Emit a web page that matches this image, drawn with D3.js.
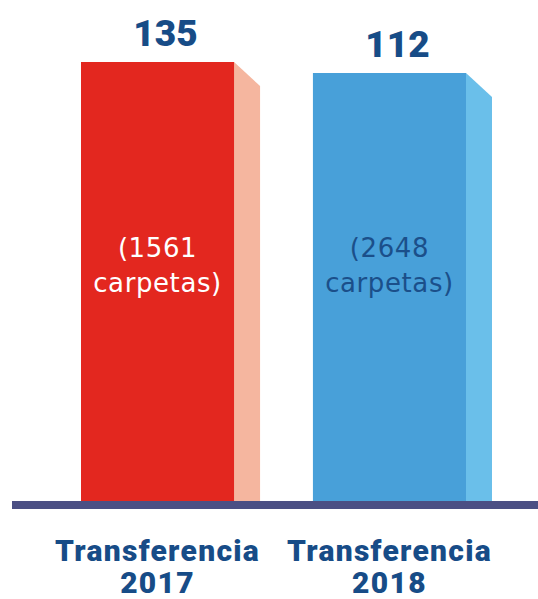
<!DOCTYPE html>
<html>
<head>
<meta charset="utf-8">
<style>
  body { margin: 0; background: #fff; }
  svg { display: block; }
  text { font-family: Roboto, "Noto Sans", sans-serif; }
</style>
</head>
<body>
<svg id="chart" width="538" height="599"></svg>
<script src="https://d3js.org/d3.v7.min.js"></script>
<script>

var categories = ["Transferencia 2017", "Transferencia 2018"];
var values = [135, 112];
var carpetas = [1561, 2648];

var frontColors = ["#e3271f", "#48a0d9"];
var sideColors = ["#f5b69f", "#6abfea"];
var innerTextColors = ["#ffffff", "#1b4f8a"];
var darkBlue = "#174c87";

var svg = d3.select("#chart"),
    baseY = 501,
    depthX = 26,
    depthY = 24;

var x = d3.scaleBand()
    .domain(categories)
    .range([81, 466])
    .paddingInner(0.34)
    .paddingOuter(0);

// chart is not zero based, bars start far below zero
var y = d3.scaleLinear()
    .domain([-783, 135])
    .range([baseY, 62]);

var data = categories.map(function(c, i) {
  return {cat: c, value: values[i], carpetas: carpetas[i], i: i};
});

var bars = svg.selectAll(".bar")
    .data(data)
  .enter().append("g")
    .attr("class", "bar");

// side face
bars.append("path")
    .attr("fill", function(d) { return sideColors[d.i]; })
    .attr("d", function(d) {
      var x0 = x(d.cat) + x.bandwidth(), y0 = y(d.value);
      return "M" + x0 + "," + y0 +
             "L" + (x0 + depthX) + "," + (y0 + depthY) +
             "L" + (x0 + depthX) + "," + baseY +
             "L" + x0 + "," + baseY + "Z";
    });

// front face
bars.append("rect")
    .attr("x", function(d) { return x(d.cat); })
    .attr("y", function(d) { return y(d.value); })
    .attr("width", x.bandwidth())
    .attr("height", function(d) { return baseY - y(d.value); })
    .attr("fill", function(d) { return frontColors[d.i]; });

// value on top
bars.append("text")
    .attr("x", function(d) { return x(d.cat) + x.bandwidth() / 2 + 8; })
    .attr("y", function(d) { return y(d.value) - 16; })
    .attr("text-anchor", "middle")
    .attr("fill", darkBlue)
    .style("font-size", "37px")
    .style("font-weight", 900)
    .text(function(d) { return d.value; });

// inner label
var inner = bars.append("text")
    .attr("text-anchor", "middle")
    .attr("fill", function(d) { return innerTextColors[d.i]; })
    .style("font-family", "'DejaVu Sans', sans-serif")
    .style("font-size", "26px")
    .style("letter-spacing", "0.6px")
    .style("font-weight", 400);

inner.append("tspan")
    .attr("x", function(d) { return x(d.cat) + x.bandwidth() / 2; })
    .attr("y", 257)
    .text(function(d) { return "(" + d.carpetas; });
inner.append("tspan")
    .attr("x", function(d) { return x(d.cat) + x.bandwidth() / 2; })
    .attr("y", 292)
    .text("carpetas)");

// baseline
svg.append("line")
    .attr("x1", 12)
    .attr("x2", 538)
    .attr("y1", baseY + 4)
    .attr("y2", baseY + 4)
    .attr("stroke", "#4b4f84")
    .attr("stroke-width", 8);

// category labels
var labels = svg.selectAll(".cat")
    .data(data)
  .enter().append("text")
    .attr("class", "cat")
    .attr("text-anchor", "middle")
    .attr("fill", darkBlue)
    .style("font-size", "30px")
    .style("font-weight", 900)
    .style("letter-spacing", "1.3px");

labels.each(function(d) {
  var parts = d.cat.split(" ");
  var t = d3.select(this);
  parts.forEach(function(p, j) {
    t.append("tspan")
      .attr("x", x(d.cat) + x.bandwidth() / 2)
      .attr("y", 561 + j * 32)
      .text(p);
  });
});

</script>
</body>
</html>
